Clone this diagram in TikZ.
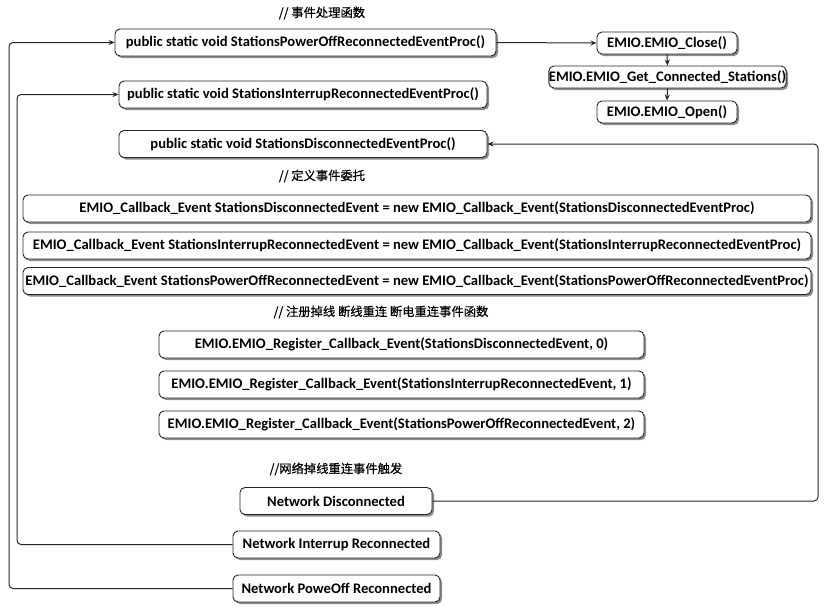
\documentclass[tikz,border=0pt]{standalone}
\usepackage{fontspec}
\setmainfont{Carlito}
\newfontfamily\cjk[FakeBold=0.6]{Noto Sans CJK SC}
\usetikzlibrary{shadows,arrows.meta}
\begin{document}
\begin{tikzpicture}[x=1pt,y=-1pt,
  box/.style={draw=black!85, line width=0.9pt, rounded corners=5pt, fill=white,
    drop shadow={shadow xshift=2pt,shadow yshift=-2pt,fill=black!45,opacity=1},
    font=\bfseries\fontsize{14.6}{16}\selectfont, inner sep=0pt, minimum height=27pt, align=center},
  sbox/.style={box, minimum height=22pt},
  title/.style={font=\cjk\fontsize{12.3}{14}\selectfont, inner sep=0pt},
  conn/.style={draw=black!85, line width=1pt, rounded corners=4pt},
  arr/.style={conn, -{Stealth[length=6pt,width=5pt]}}
]
\useasboundingbox (0,0) rectangle (828,613);

\node[title] (t1) at (322,13) {// 事件处理函数};
\node[box, minimum width=381pt] (p1) at (305.5,42.5) {public static void StationsPowerOffReconnectedEventProc()};
\node[box, minimum width=368pt] (p2) at (303,94.5) {public static void StationsInterrupReconnectedEventProc()};
\node[box, minimum width=368pt] (p3) at (303,144) {public static void StationsDisconnectedEventProc()};

\node[sbox, minimum width=140pt] (close) at (667,43) {EMIO.EMIO\_Close()};
\node[sbox, minimum width=237pt] (get) at (667.5,77) {EMIO.EMIO\_Get\_Connected\_Stations()};
\node[sbox, minimum width=140pt] (open) at (667,112) {EMIO.EMIO\_Open()};

\node[title] (t2) at (322,176) {// 定义事件委托};
\node[box, minimum width=788pt] (d1) at (417,208.5) {EMIO\_Callback\_Event StationsDisconnectedEvent = new EMIO\_Callback\_Event(StationsDisconnectedEventProc)};
\node[box, minimum width=788pt] (d2) at (417,245.5) {EMIO\_Callback\_Event StationsInterrupReconnectedEvent = new EMIO\_Callback\_Event(StationsInterrupReconnectedEventProc)};
\node[box, minimum width=788pt] (d3) at (417,281) {EMIO\_Callback\_Event StationsPowerOffReconnectedEvent = new EMIO\_Callback\_Event(StationsPowerOffReconnectedEventProc)};

\node[title] (t3) at (381,312) {// 注册掉线 断线重连 断电重连事件函数};
\node[box, minimum width=485pt] (r1) at (401.5,344.5) {EMIO.EMIO\_Register\_Callback\_Event(StationsDisconnectedEvent, 0)};
\node[box, minimum width=485pt] (r2) at (401.5,384.5) {EMIO.EMIO\_Register\_Callback\_Event(StationsInterrupReconnectedEvent, 1)};
\node[box, minimum width=485pt] (r3) at (401.5,424.5) {EMIO.EMIO\_Register\_Callback\_Event(StationsPowerOffReconnectedEvent, 2)};

\node[title] (t4) at (336,469) {//网络掉线重连事件触发};
\node[box, minimum width=192pt] (n1) at (336,501) {Network Disconnected};
\node[box, minimum width=207pt] (n2) at (336.5,544.5) {Network Interrup Reconnected};
\node[box, minimum width=207pt] (n3) at (336.5,588.5) {Network PoweOff Reconnected};

\coordinate (l1) at (9,42.5);
\coordinate (l2) at (17,94.5);
\coordinate (l3) at (818,144);

\draw[arr] (n3.west) -| (l1) -- (p1.west);
\draw[arr] (n2.west) -| (l2) -- (p2.west);
\draw[arr] (n1.east) -| (l3) -- (p3.east);
\draw[arr] (p1.east) -- (close.west);
\draw[arr] (close.south) -- (get.north);
\draw[arr] (get.south) -- (open.north);
\end{tikzpicture}
\end{document}
